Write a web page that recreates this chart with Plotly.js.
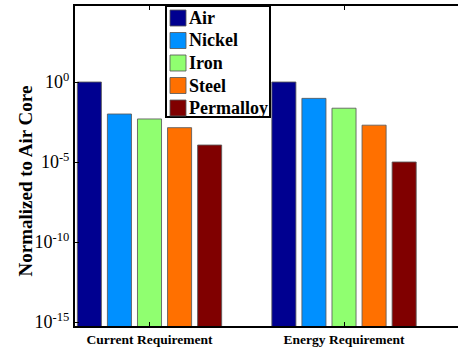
<!DOCTYPE html>
<html>
<head>
<meta charset="utf-8">
<script src="https://cdn.plot.ly/plotly-3.0.1.min.js"></script>
<style>html,body{margin:0;padding:0;background:#fff;}#chart{width:458px;height:352px;}</style>
</head>
<body>
<div id="chart"></div>
<script>
var categories = ['Current Requirement', 'Energy Requirement'];
var materials = ['Air', 'Nickel', 'Iron', 'Steel', 'Permalloy'];
var colors = ['#000090', '#0090FF', '#90FF70', '#FF7000', '#800000'];
var airValues = [1, 1];
var nickelValues = [1.0e-2, 9.5e-2];
var ironValues = [4.9e-3, 2.3e-2];
var steelValues = [1.4e-3, 2.0e-3];
var permalloyValues = [1.15e-4, 1.0e-5];
var seriesValues = [airValues, nickelValues, ironValues, steelValues, permalloyValues];
var yTickVals = [1e-15, 1e-10, 1e-5, 1];
var yTickText = ['10<sup>-15</sup>', '10<sup>-10</sup>', '10<sup>-5</sup>', '10<sup>0</sup>'];

var serif = "'Liberation Serif'";

var traces = materials.map(function (m, i) {
  return {
    type: 'bar',
    name: m,
    x: categories,
    y: seriesValues[i],
    marker: {color: colors[i], line: {color: 'rgba(90,90,90,0.85)', width: 1}},
    showlegend: false,
    hoverinfo: 'none'
  };
});

// plot area pixel geometry (for legend placement in paper coords)
var L = 75, T = 6, W = 383, H = 320;
function px(x) { return (x - L) / W; }
function py(y) { return (T + H - y) / H; }

var shapes = [{
  type: 'rect', xref: 'paper', yref: 'paper',
  x0: px(166), x1: px(270), y0: py(117), y1: py(6),
  line: {color: '#000', width: 2}, fillcolor: '#fff', layer: 'above'
}];
var annotations = [];
var rowY = [18, 40.5, 63, 85.5, 108];
materials.forEach(function (m, i) {
  shapes.push({
    type: 'rect', xref: 'paper', yref: 'paper',
    x0: px(170), x1: px(186), y0: py(rowY[i] + 8), y1: py(rowY[i] - 8),
    line: {color: 'rgba(90,90,90,0.85)', width: 1}, fillcolor: colors[i], layer: 'above'
  });
  annotations.push({
    xref: 'paper', yref: 'paper', x: px(187), y: py(rowY[i]),
    xanchor: 'left', yanchor: 'middle', showarrow: false,
    text: '<b>' + m + '</b>', font: {family: serif, size: 18, color: '#000'}
  });
});
annotations.push({
  xref: 'paper', yref: 'paper', x: px(25), y: py(181.5),
  xanchor: 'center', yanchor: 'middle', showarrow: false, textangle: -90,
  text: '<b>Normalized to Air Core</b>', font: {family: serif, size: 19, color: '#000'}
});

var layout = {
  width: 458, height: 352,
  margin: {l: L, r: 0, t: T, b: 352 - T - H},
  paper_bgcolor: '#fff', plot_bgcolor: '#fff',
  font: {family: serif, color: '#000'},
  barmode: 'group', bargap: 0.227, bargroupgap: 0.2,
  showlegend: false,
  xaxis: {
    type: 'category', range: [-0.383, 1.586],
    showline: true, linecolor: '#000', linewidth: 2, mirror: 'ticks',
    ticks: 'inside', ticklen: 4, tickcolor: '#000', tickwidth: 1,
    showgrid: false, zeroline: false,
    tickfont: {family: serif, size: 13.5, color: '#000'},
    tickprefix: '<b>', ticksuffix: '</b>'
  },
  yaxis: {
    type: 'log', range: [-15.25, 4.75],
    showline: true, linecolor: '#000', linewidth: 2,
    ticks: 'inside', ticklen: 4, tickcolor: '#000', tickwidth: 1,
    tickvals: yTickVals, ticktext: yTickText,
    showgrid: false, zeroline: false,
    tickfont: {family: serif, size: 18, color: '#000'},
    tickprefix: '<b>', ticksuffix: '</b>',
    ticklabelstandoff: 0
  },
  shapes: shapes,
  annotations: annotations
};

Plotly.newPlot('chart', traces, layout, {displayModeBar: false, staticPlot: true});
</script>
</body>
</html>
